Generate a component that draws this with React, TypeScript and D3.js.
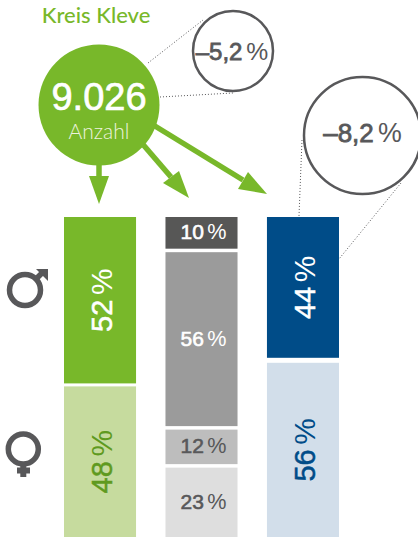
import { cumsum, line, scaleBand, scaleLinear } from "d3";

const width = 418;
const height = 537;

const green = "#78b82a";
const grey = "#58585a";
const blue = "#004c88";

const title = "Kreis Kleve";
const total = "9.026";
const totalLabel = "Anzahl";
const totalChange = "–5,2";
const blueChange = "–8,2";

const genderShares = [52, 48];
const ageShares = [10, 56, 12, 23];
const blueShares = [44, 56];

const genderFills = [green, "#c6db9e"];
const ageFills = ["#575756", "#9b9b9b", "#bdbdbd", "#dedede"];
const blueFills = [blue, "#d2deea"];

const genderText = ["#ffffff", "#5f9a1f"];
const ageText = ["#ffffff", "#ffffff", grey, grey];
const blueText = ["#ffffff", blue];

const columns = [
  { shares: genderShares, fills: genderFills, text: genderText, rotated: true, gap: 3 },
  { shares: ageShares, fills: ageFills, text: ageText, rotated: false, gap: 3.5 },
  { shares: blueShares, fills: blueFills, text: blueText, rotated: true, gap: 5 },
];

const x = scaleBand<number>().domain([0, 1, 2]).range([64, 339]).paddingInner(0.29);

const polyline = line();

// stem start, stem end, then the head's three corners
const arrows: [number, number][][] = [
  [[99, 160], [99, 176], [89, 176], [99, 204], [109, 176]],
  [[140, 141], [171, 177], [163, 183], [189, 198], [179, 171]],
  [[150, 123], [243, 180], [238, 189], [267, 194], [248, 172]],
];

const dots: [number, number][][] = [
  [[148, 63], [203, 20]],
  [[160, 97], [233, 93]],
  [[302, 140], [299, 216]],
  [[401, 183], [339, 259]],
];

const Pct = ({ value, size, color, weight }: { value: string; size: number; color: string; weight: number }) => (
  <>
    <tspan stroke={color} strokeWidth={weight}>{value}</tspan>
    <tspan dx={size * 0.16} fontSize={size * 1.03}>%</tspan>
  </>
);

const App = () => (
  <svg
    width={width}
    height={height}
    style={{ position: "absolute", left: 0, top: 0 }}
    fontFamily="'Liberation Sans'"
  >
    <text x={96} y={23} textAnchor="middle" fontFamily="Lato" fontWeight={500} fontSize={22} fill={green}>
      {title}
    </text>

    {dots.map((d, i) => (
      <path key={i} d={polyline(d) ?? ""} stroke={grey} strokeWidth={1} strokeDasharray="1 2" fill="none" />
    ))}

    {arrows.map((a, i) => (
      <g key={i}>
        <path d={polyline(a.slice(0, 2)) ?? ""} stroke={green} strokeWidth={5.5} fill="none" />
        <path d={polyline(a.slice(2)) ?? ""} fill={green} />
      </g>
    ))}

    <circle cx={99} cy={105} r={60.5} fill={green} />
    <text x={99} y={110} textAnchor="middle" fontSize={38} stroke="#fff" strokeWidth={0.7} fill="#fff">{total}</text>
    <text x={99} y={139} textAnchor="middle" fontFamily="Lato" fontWeight={300} fontSize={21} fill="#edf3df">{totalLabel}</text>

    <circle cx={233} cy={51} r={40} fill="#fff" stroke={grey} strokeWidth={2.5} />
    <text x={232} y={60} textAnchor="middle" fontSize={24} fill={grey}>
      <Pct value={totalChange} size={24} color={grey} weight={0.8} />
    </text>

    <circle cx={362.5} cy={135.5} r={58.5} fill="#fff" stroke={grey} strokeWidth={2.5} />
    <text x={362.5} y={142} textAnchor="middle" fontSize={26} fill={grey}>
      <Pct value={blueChange} size={26} color={grey} weight={0.8} />
    </text>

    {columns.map((col, c) => {
      const sum = cumsum(col.shares);
      const y = scaleLinear().domain([0, sum[sum.length - 1]]).range([217, 537]);
      const bx = x(c) ?? 0;
      const bw = x.bandwidth();
      return (
        <g key={c}>
          {col.shares.map((v, i) => {
            const y0 = i === 0 ? y(0) : y(sum[i - 1]) + col.gap;
            const y1 = y(sum[i]);
            const cy = (y0 + y1) / 2;
            return (
              <g key={i}>
                <rect x={bx} y={y0} width={bw} height={y1 - y0} fill={col.fills[i]} />
                {col.rotated ? (
                  <text
                    transform={`translate(${bx + 48},${cy}) rotate(-90)`}
                    textAnchor="middle"
                    fontSize={29}
                    fill={col.text[i]}
                  >
                    <Pct value={String(v)} size={29} color={col.text[i]} weight={0.5} />
                  </text>
                ) : (
                  <text
                    x={bx + bw / 2 + 2}
                    y={cy + 6.5}
                    textAnchor="middle"
                    fontSize={21}
                    fill={col.text[i]}
                  >
                    <Pct value={String(v)} size={21} color={col.text[i]} weight={0.6} />
                  </text>
                )}
              </g>
            );
          })}
        </g>
      );
    })}

    {/* male */}
    <g stroke={grey} fill="none">
      <circle cx={25} cy={290} r={15.5} strokeWidth={5.5} />
      <path d="M36 279L44 271" strokeWidth={5.5} />
    </g>
    <path d="M36 269H48V281Z" fill={grey} />

    {/* female */}
    <g stroke={grey} fill="none">
      <circle cx={23.3} cy={449} r={15} strokeWidth={5.5} />
      <path d="M23.3 464V477M17 470.5H30" strokeWidth={6} />
    </g>
  </svg>
);

export default App;
